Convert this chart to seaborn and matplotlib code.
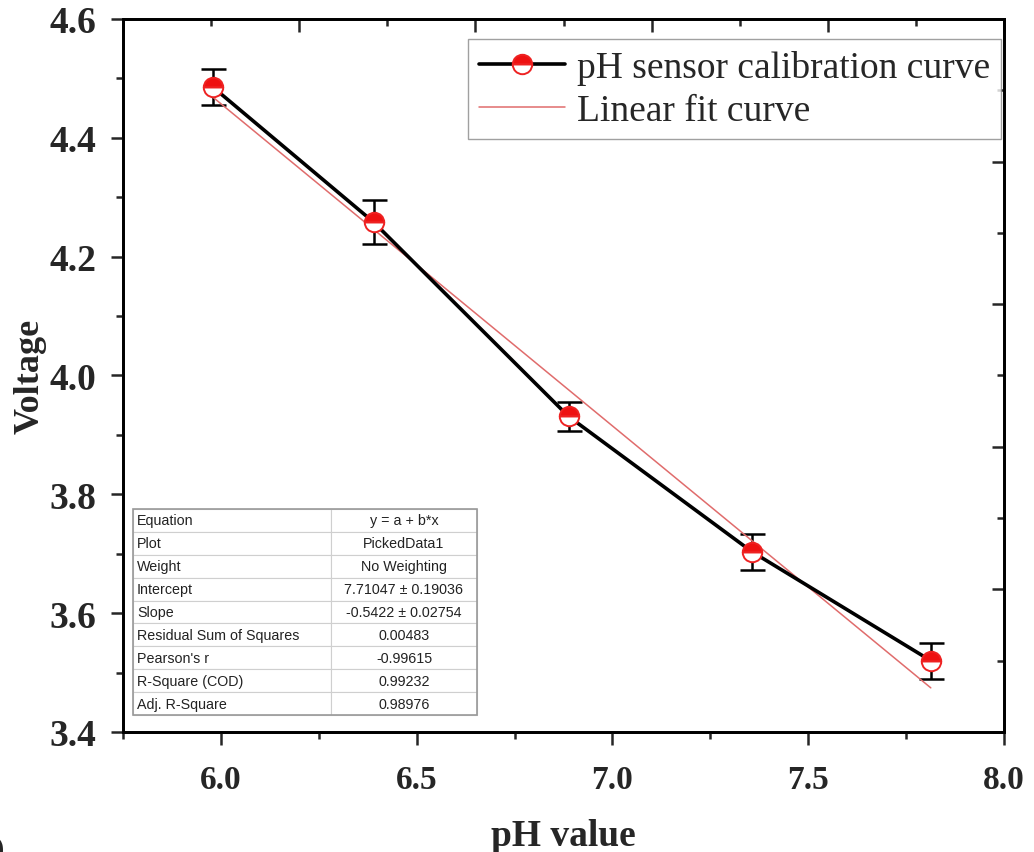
import numpy as np
import pandas as pd
import matplotlib
matplotlib.use("Agg")
import matplotlib.pyplot as plt
from matplotlib.ticker import MultipleLocator, FormatStrFormatter
from matplotlib.patches import Rectangle
import seaborn as sns

# ---- data ----
ph_values = [5.98, 6.39, 6.888, 7.357, 7.813]
voltages = [4.485, 4.258, 3.931, 3.703, 3.520]
voltage_err = [0.030, 0.037, 0.024, 0.030, 0.030]

fit_intercept = 7.71047
fit_slope = -0.5422

table_labels = ["Equation", "Plot", "Weight", "Intercept", "Slope",
                "Residual Sum of Squares", "Pearson's r", "R-Square (COD)",
                "Adj. R-Square"]
table_values = ["y = a + b*x", "PickedData1", "No Weighting",
                "7.71047 \u00b1 0.19036", "-0.5422 \u00b1 0.02754",
                "0.00483", "-0.99615", "0.99232", "0.98976"]

sns.set_theme(style="white")
serif = ["Liberation Serif", "DejaVu Serif"]
plt.rcParams['font.family'] = serif

fig = plt.figure(figsize=(10.34, 8.53), dpi=100)
ax = fig.add_axes([0.119, 0.1407, 0.852, 0.8359])

df = pd.DataFrame({"ph": ph_values, "v": voltages})
fit_x = np.array([ph_values[0], ph_values[-1]])
fit_df = pd.DataFrame({"ph": fit_x, "v": fit_intercept + fit_slope * fit_x})

ax.errorbar(ph_values, voltages, yerr=voltage_err, fmt='none', ecolor='black',
            elinewidth=1.8, capsize=9, capthick=1.8, zorder=2)
sns.lineplot(data=fit_df, x="ph", y="v", ax=ax, color="#e06c6c", linewidth=1.1,
             label="Linear fit curve", zorder=3)
sns.lineplot(data=df, x="ph", y="v", ax=ax, color="black", linewidth=2.6,
             marker='o', markersize=14, fillstyle='top', markerfacecolor='#ee1111',
             markerfacecoloralt='white', markeredgecolor='#ee2222',
             markeredgewidth=1.4, label="pH sensor calibration curve", zorder=4)

ax.set_xlim(5.75, 8.0)
ax.set_ylim(3.4, 4.6)
ax.xaxis.set_major_locator(MultipleLocator(0.5))
ax.xaxis.set_minor_locator(MultipleLocator(0.25))
ax.yaxis.set_major_locator(MultipleLocator(0.2))
ax.yaxis.set_minor_locator(MultipleLocator(0.1))
ax.tick_params(axis='both', which='major', direction='out', length=9, width=1.8,
               bottom=True, left=True, top=False, right=False)
ax.tick_params(axis='both', which='minor', direction='out', length=5, width=1.8,
               bottom=True, left=True, top=False, right=False)
ax.tick_params(axis='x', which='major', pad=14, labelsize=24)
ax.tick_params(axis='y', which='major', pad=10, labelsize=27)
ax.xaxis.set_major_formatter(FormatStrFormatter('%.1f'))
ax.yaxis.set_major_formatter(FormatStrFormatter('%.1f'))
for lbl in ax.get_xticklabels() + ax.get_yticklabels():
    lbl.set_fontweight('bold')
ax.set_xlabel("pH value", fontsize=27, fontweight='bold')
ax.set_ylabel("Voltage", fontsize=26, fontweight='bold')
ax.xaxis.set_label_coords(0.5, -0.12)
ax.yaxis.set_label_coords(-0.087, 0.5)
for s in ax.spines.values():
    s.set_linewidth(1.8)
    s.set_color('black')

# top / right axes with their own ticks (inward, unlabeled)
axt = ax.twiny()
axt.set_xlim(0, 5)
axt.xaxis.set_major_locator(MultipleLocator(1))
axt.xaxis.set_minor_locator(MultipleLocator(0.5))
axt.tick_params(axis='x', which='major', direction='in', length=9, width=1.8, labeltop=False, top=True)
axt.tick_params(axis='x', which='minor', direction='in', length=5, width=1.8, top=True)
axr = ax.twinx()
axr.set_ylim(0, 5)
axr.yaxis.set_major_locator(MultipleLocator(1))
axr.yaxis.set_minor_locator(MultipleLocator(0.5))
axr.tick_params(axis='y', which='major', direction='in', length=9, width=1.8, labelright=False, right=True)
axr.tick_params(axis='y', which='minor', direction='in', length=5, width=1.8, right=True)
for a in (axt, axr):
    a.grid(False)
    for s in a.spines.values():
        s.set_linewidth(1.8)
        s.set_color('black')

# legend (data series first)
handles, labels = ax.get_legend_handles_labels()
order = [labels.index("pH sensor calibration curve"), labels.index("Linear fit curve")]
leg = ax.legend([handles[i] for i in order], [labels[i] for i in order],
                loc='upper right', bbox_to_anchor=(0.9965, 0.972), borderaxespad=0,
                fontsize=27, frameon=True, fancybox=False, edgecolor='#888888',
                handlelength=2.3, labelspacing=0.22, handletextpad=0.3,
                borderpad=0.3)
leg.get_frame().set_linewidth(1.0)
ax.set_zorder(axr.get_zorder() + 1)
ax.patch.set_visible(False)

# fit results table
cell_text = [[l, v] for l, v in zip(table_labels, table_values)]
tbl = ax.table(cellText=cell_text, cellLoc='center', colWidths=[0.577, 0.423],
               bbox=[0.0114, 0.0238, 0.390, 0.289], zorder=5)
tbl.auto_set_font_size(False)
for (r, c), cell in tbl.get_celld().items():
    cell.set_edgecolor('#cfcfcf')
    cell.set_linewidth(0.8)
    cell.set_facecolor('white')
    t = cell.get_text()
    t.set_fontfamily(["Liberation Sans", "DejaVu Sans"])
    t.set_fontsize(10.3)
    t.set_color('#222222')
    if c == 0:
        t.set_ha('left')
        cell.PAD = 0.02
ax.add_patch(Rectangle((0.0114, 0.0238), 0.390, 0.289, transform=ax.transAxes,
                       fill=False, edgecolor='#999999', linewidth=1.2, zorder=6))

# cut-off panel letter at bottom-left
fig.text(0.005, 0.004, "(b)", ha='right', va='center', fontsize=22,
         fontweight='bold', family=serif)

fig.savefig("out.png", dpi=100)
